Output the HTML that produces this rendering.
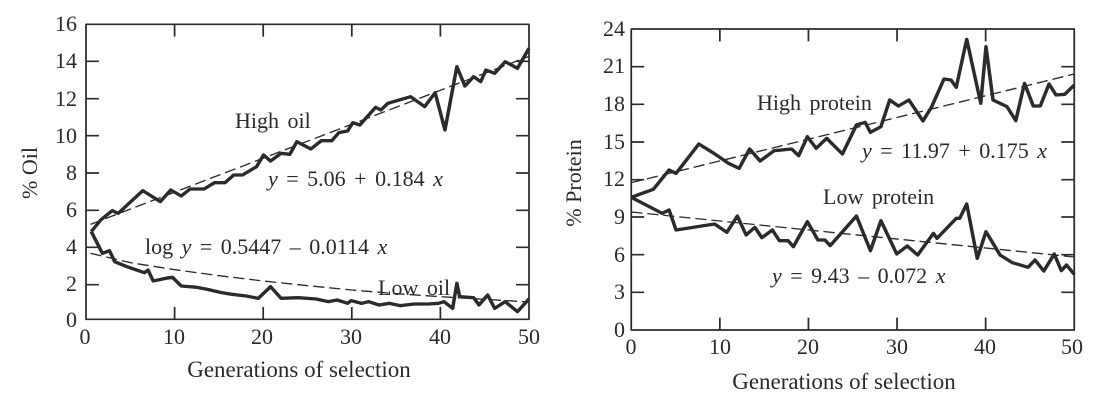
<!DOCTYPE html>
<html><head><meta charset="utf-8"><style>
html,body{margin:0;padding:0;background:#fff;}
svg{display:block;font-family:"Liberation Serif",serif;}
text{fill:#2a2a2a;}
</style></head><body>
<svg width="1100" height="400" viewBox="0 0 1100 400" xmlns="http://www.w3.org/2000/svg">
<!-- LEFT CHART -->
<g transform="translate(0.9,0) scale(0.3502,0.33333)" fill="none" stroke="#2b2b2b" stroke-linejoin="round">
  <rect x="243" y="73" width="1265" height="885" stroke-width="5"/>
  <g stroke-width="5">
    <path d="M243 184h37M243 296h37M243 407h37M243 519h37M243 631h37M243 742h37M243 854h37"/>
    <path d="M1508 184h-37M1508 296h-37M1508 407h-37M1508 519h-37M1508 631h-37M1508 742h-37M1508 854h-37"/>
    <path d="M496 73v37M749 73v37M1002 73v37M1255 73v37M496 958v-37M749 958v-37M1002 958v-37M1255 958v-37"/>
  </g>
  <path stroke-width="4" stroke-dasharray="32 14" d="M256 673L1508 169"/>
  <path stroke-width="4" stroke-dasharray="32 14" d="M256 760L370 788L496 809L623 827L749 843L876 857L1002 870L1129 881L1255 890L1382 898L1508 906"/>
  <polyline stroke-width="10" points="258,695 285,660 318,632 335,640 405,572 455,605 485,570 515,588 540,567 580,567 610,548 640,548 665,525 690,525 730,500 750,465 770,483 800,460 825,463 845,425 885,447 915,422 945,422 965,398 990,393 1005,368 1025,375 1070,322 1085,330 1105,310 1170,290 1210,320 1240,278 1268,390 1302,200 1325,258 1350,230 1370,245 1385,210 1410,220 1440,185 1475,205 1508,145"/>
  <polyline stroke-width="10" points="258,695 290,760 310,752 325,785 360,800 410,818 420,810 435,843 470,835 490,832 515,858 560,862 590,868 630,878 660,883 700,888 735,895 770,860 800,895 850,893 900,897 935,905 960,900 990,910 1000,902 1030,910 1050,905 1080,915 1110,910 1140,917 1180,912 1220,912 1250,910 1265,905 1290,925 1302,850 1310,890 1350,893 1365,915 1390,885 1410,925 1440,905 1475,935 1508,897"/>
</g>
<g font-size="22" text-anchor="end">
  <text x="77" y="31">16</text><text x="77" y="68">14</text><text x="77" y="106">12</text>
  <text x="77" y="143">10</text><text x="77" y="180">8</text><text x="77" y="217">6</text>
  <text x="77" y="254">4</text><text x="77" y="291">2</text><text x="77" y="327">0</text>
</g>
<g font-size="22" text-anchor="middle">
  <text x="85" y="344">0</text><text x="174" y="344">10</text><text x="262" y="344">20</text>
  <text x="351" y="344">30</text><text x="440" y="344">40</text><text x="529" y="344">50</text>
</g>
<text x="299" y="377" font-size="23" text-anchor="middle">Generations of selection</text>
<text transform="translate(37,173) rotate(-90)" font-size="22" text-anchor="middle">% Oil</text>
<g font-size="22" word-spacing="3">
  <text x="235" y="128">High oil</text>
  <text x="268" y="186"><tspan font-style="italic">y</tspan> = 5.06 + 0.184 <tspan font-style="italic">x</tspan></text>
  <text x="145" y="254">log <tspan font-style="italic">y</tspan> = 0.5447 – 0.0114 <tspan font-style="italic">x</tspan></text>
  <text x="378" y="295">Low oil</text>
</g>

<!-- RIGHT CHART -->
<g transform="translate(550,0) scale(0.3502,0.33333)" fill="none" stroke="#2b2b2b" stroke-linejoin="round">
  <rect x="232" y="87" width="1265" height="903" stroke-width="5"/>
  <g stroke-width="5">
    <path d="M232 200h37M232 313h37M232 426h37M232 539h37M232 651h37M232 764h37M232 877h37"/>
    <path d="M1497 200h-37M1497 313h-37M1497 426h-37M1497 539h-37M1497 651h-37M1497 764h-37M1497 877h-37"/>
    <path d="M485 87v37M738 87v37M991 87v37M1244 87v37M485 990v-37M738 990v-37M991 990v-37M1244 990v-37"/>
  </g>
  <path stroke-width="4" stroke-dasharray="32 14" d="M232 548L1497 222"/>
  <path stroke-width="4" stroke-dasharray="32 14" d="M232 636L1497 771"/>
  <polyline stroke-width="10" points="232,592 295,568 340,510 360,520 425,432 465,458 510,490 540,505 570,447 600,483 640,452 690,447 710,467 735,410 760,445 790,415 835,462 875,375 900,367 915,397 945,380 970,300 995,318 1025,300 1065,363 1090,320 1125,237 1145,240 1160,262 1190,118 1230,310 1245,140 1265,300 1305,320 1330,362 1355,250 1380,318 1400,318 1425,252 1445,285 1470,283 1497,255"/>
  <polyline stroke-width="10" points="232,592 320,640 340,630 360,690 470,672 505,697 535,648 560,705 585,682 605,713 635,690 655,722 680,722 695,740 735,665 765,720 785,720 800,737 875,648 915,752 945,662 990,762 1020,738 1050,765 1095,700 1105,715 1160,655 1170,655 1190,612 1220,775 1245,695 1285,765 1320,788 1365,802 1385,780 1410,813 1440,762 1460,812 1475,795 1497,823"/>
</g>
<g font-size="22" text-anchor="end">
  <text x="625" y="36">24</text><text x="625" y="73">21</text><text x="625" y="111">18</text>
  <text x="625" y="149">15</text><text x="625" y="186">12</text><text x="625" y="224">9</text>
  <text x="625" y="262">6</text><text x="625" y="299">3</text><text x="625" y="337">0</text>
</g>
<g font-size="22" text-anchor="middle">
  <text x="631" y="354">0</text><text x="720" y="354">10</text><text x="808" y="354">20</text>
  <text x="897" y="354">30</text><text x="985" y="354">40</text><text x="1072" y="354">50</text>
</g>
<text x="844" y="389" font-size="23" text-anchor="middle">Generations of selection</text>
<text transform="translate(581,183) rotate(-90)" font-size="22" text-anchor="middle">% Protein</text>
<g font-size="22" word-spacing="3">
  <text x="757" y="110">High protein</text>
  <text x="862" y="158"><tspan font-style="italic">y</tspan> = 11.97 + 0.175 <tspan font-style="italic">x</tspan></text>
  <text x="823" y="204">Low protein</text>
  <text x="772" y="283"><tspan font-style="italic">y</tspan> = 9.43 – 0.072 <tspan font-style="italic">x</tspan></text>
</g>
</svg>
</body></html>
